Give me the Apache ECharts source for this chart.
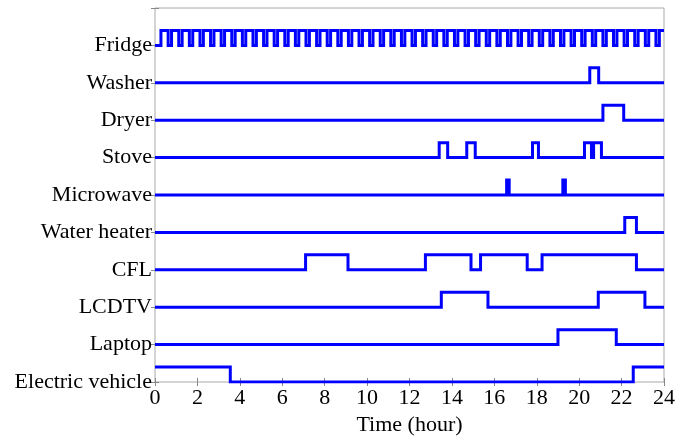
<!DOCTYPE html>
<html><head><meta charset="utf-8">
<script src="https://cdn.jsdelivr.net/npm/echarts@6/dist/echarts.min.js"></script>
<style>html,body{margin:0;padding:0;background:#fff}#c{width:689px;height:441px}</style>
</head><body><div id="c"></div>
<script>
// Appliance names, bottom (level 0) to top (level 9)
var appliances = ["Electric vehicle","Laptop","LCDTV","CFL","Water heater","Microwave","Stove","Dryer","Washer","Fridge"];
var xTicks = [0,2,4,6,8,10,12,14,16,18,20,22,24];
// ON intervals [start hour, end hour] per appliance
var evOn = [[0,3.55],[22.55,24]];
var laptopOn = [[19.0,21.75]];
var lcdtvOn = [[13.5,15.7],[20.9,23.1]];
var cflOn = [[7.1,9.1],[12.75,14.9],[15.35,17.55],[18.25,22.7]];
var waterHeaterOn = [[22.15,22.7]];
var microwaveOn = [[16.58,16.7],[19.23,19.35]];
var stoveOn = [[13.4,13.8],[14.7,15.1],[17.8,18.08],[20.25,20.58],[20.68,21.05]];
var dryerOn = [[21.12,22.1]];
var washerOn = [[20.5,20.92]];
var fridgeOn = [[0.28,0.62],[0.78,1.12],[1.28,1.62],[1.78,2.12],[2.28,2.62],[2.78,3.12],[3.28,3.62],[3.78,4.12],
[4.28,4.62],[4.78,5.12],[5.28,5.62],[5.78,6.12],[6.28,6.62],[6.78,7.12],[7.28,7.62],[7.78,8.12],
[8.28,8.62],[8.78,9.12],[9.28,9.62],[9.78,10.12],[10.28,10.62],[10.78,11.12],[11.28,11.62],[11.78,12.12],
[12.28,12.62],[12.78,13.12],[13.28,13.62],[13.78,14.12],[14.28,14.62],[14.78,15.12],[15.28,15.62],[15.78,16.12],
[16.28,16.62],[16.78,17.12],[17.28,17.62],[17.78,18.12],[18.28,18.62],[18.78,19.12],[19.28,19.62],[19.78,20.12],
[20.28,20.62],[20.78,21.12],[21.28,21.62],[21.78,22.12],[22.28,22.62],[22.78,23.12],[23.28,23.62],[23.78,24]];
var onSets = [evOn,laptopOn,lcdtvOn,cflOn,waterHeaterOn,microwaveOn,stoveOn,dryerOn,washerOn,fridgeOn];
var pulseHeight = 0.4;

function buildSeries(intervals, base){
  var pts = [];
  var hi = base + pulseHeight;
  if (intervals.length && intervals[0][0] <= 0) { pts.push([0, hi]); }
  else pts.push([0, base]);
  intervals.forEach(function(iv){
    if (iv[0] > 0) { pts.push([iv[0], base]); pts.push([iv[0], hi]); }
    if (iv[1] < 24) { pts.push([iv[1], hi]); pts.push([iv[1], base]); }
    else pts.push([24, hi]);
  });
  var last = pts[pts.length-1];
  if (last[0] < 24) pts.push([24, base]);
  return pts;
}

var series = onSets.map(function(s, i){
  return {type:'line', name: appliances[i], data: buildSeries(s, i), showSymbol:false, symbol:'none',
    lineStyle:{color:'#0000ff', width:3, join:'miter'}, animation:false, clip:true};
});

var font = "'Liberation Serif', 'Times New Roman', serif";
var chart = echarts.init(document.getElementById('c'), null, {renderer:'canvas'});
chart.setOption({
  animation:false,
  grid:{left:155, right:25, top:8, bottom:56, show:true, borderColor:'#a8a8a8', borderWidth:1, backgroundColor:'transparent'},
  xAxis:[{type:'value', min:0, max:24, interval:2, position:'bottom',
    axisLine:{show:false}, splitLine:{show:false},
    axisTick:{show:true, inside:true, length:4, lineStyle:{color:'#888'}},
    axisLabel:{color:'#000', fontFamily:font, fontSize:22, margin:5, formatter:function(v){return xTicks.indexOf(v)>=0? String(v):'';}},
    name:'Time (hour)', nameLocation:'middle', nameGap:32, nameTextStyle:{color:'#000', fontFamily:font, fontSize:22}},
   {type:'value', min:0, max:24, interval:2, position:'top',
    axisLine:{show:false}, splitLine:{show:false}, axisLabel:{show:false},
    axisTick:{show:true, inside:true, length:4, lineStyle:{color:'#888'}}}],
  yAxis:[{type:'value', min:0, max:10, interval:1,
    axisLine:{show:false}, splitLine:{show:false},
    axisTick:{show:true, inside:true, length:4, lineStyle:{color:'#888'}},
    axisLabel:{color:'#000', fontFamily:font, fontSize:22, margin:3, formatter:function(v){return appliances[v]||'';}}},
   {type:'value', min:0, max:10, interval:1, position:'right',
    axisLine:{show:false}, splitLine:{show:false}, axisLabel:{show:false},
    axisTick:{show:true, inside:true, length:4, lineStyle:{color:'#888'}}}],
  series: series
});
</script></body></html>
